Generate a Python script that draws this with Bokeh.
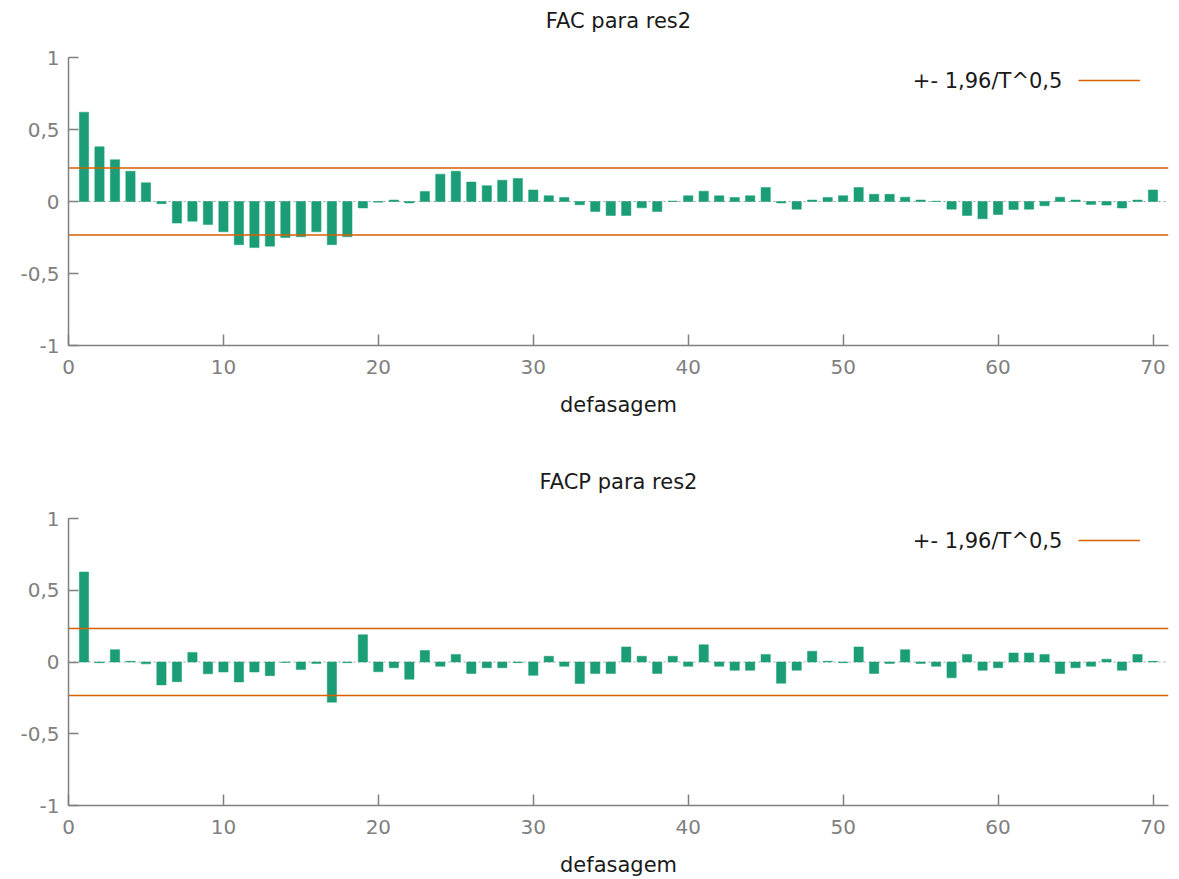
from bokeh.plotting import figure
from bokeh.models import Range1d, FixedTicker, Span, Label, Legend, LegendItem, Title
from bokeh.layouts import column
from bokeh.embed import file_html
from bokeh.resources import INLINE

# ---- data -------------------------------------------------------------
lags = list(range(1, 71))

fac = [0.62, 0.38, 0.29, 0.21, 0.13, -0.015, -0.15, -0.137, -0.16, -0.21,
       -0.30, -0.32, -0.31, -0.25, -0.245, -0.21, -0.30, -0.245, -0.045, -0.005,
       0.01, -0.01, 0.07, 0.19, 0.21, 0.135, 0.11, 0.148, 0.16, 0.08,
       0.04, 0.028, -0.023, -0.07, -0.097, -0.097, -0.044, -0.07, 0.003, 0.04,
       0.072, 0.04, 0.028, 0.04, 0.097, -0.01, -0.053, 0.01, 0.028, 0.04,
       0.097, 0.05, 0.05, 0.03, 0.01, 0.002, -0.053, -0.097, -0.12, -0.09,
       -0.055, -0.053, -0.03, 0.03, 0.01, -0.02, -0.025, -0.045, 0.01, 0.08]

facp = [0.627, -0.005, 0.086, 0.005, -0.013, -0.16, -0.137, 0.067, -0.082, -0.07,
        -0.139, -0.07, -0.095, -0.003, -0.053, -0.01, -0.28, -0.005, 0.19, -0.068,
        -0.04, -0.12, 0.08, -0.03, 0.053, -0.08, -0.04, -0.04, -0.005, -0.093,
        0.04, -0.03, -0.15, -0.08, -0.08, 0.105, 0.04, -0.08, 0.04, -0.03,
        0.12, -0.03, -0.058, -0.058, 0.053, -0.148, -0.058, 0.075, 0.005, -0.005,
        0.105, -0.08, -0.01, 0.086, -0.01, -0.03, -0.11, 0.053, -0.058, -0.04,
        0.063, 0.063, 0.053, -0.08, -0.04, -0.03, 0.02, -0.058, 0.053, 0.005]

band = 0.233
band_label = "+- 1,96/T^0,5"
titles = ["FAC para res2", "FACP para res2"]
x_label = "defasagem"
x_ticks = [0, 10, 20, 30, 40, 50, 60, 70]
y_ticks = [-1, -0.5, 0, 0.5, 1]
y_tick_labels = ["-1", "-0,5", "0", "0,5", "1"]

# ---- style ------------------------------------------------------------
FONT = "DejaVu Sans"
GREEN = "#1b9e77"
ORANGE = "#d95f02"
AXIS = "#808080"
TEXT = "#1a1a1a"
XMIN, XMAX = 0, 71
YMIN, YMAX = -1, 1


def make(title, vals, height, top_border, bottom_border):
    p = figure(width=1171, height=height,
               x_range=Range1d(XMIN, XMAX), y_range=Range1d(YMIN, YMAX),
               output_backend="svg", toolbar_location=None,
               min_border_left=68, min_border_right=3,
               min_border_top=top_border, min_border_bottom=bottom_border)
    # blank spacer panel next to the frame, then the real title above it
    p.add_layout(Title(text=" ", text_font_size="1px", standoff=18), "above")
    p.add_layout(Title(text=title, align="center", vertical_align="top",
                       standoff=4, text_font=FONT, text_font_size="21px",
                       text_font_style="normal", text_color=TEXT), "above")

    p.outline_line_color = None
    p.grid.visible = False
    p.background_fill_color = "white"

    # zero line (dotted)
    p.add_layout(Span(location=0, dimension="width", line_color="#a0a0a0",
                      line_width=1, line_dash="2 3", level="underlay"))

    p.vbar(x=lags, top=vals, bottom=0, width=0.6,
           fill_color=GREEN, line_color=GREEN, line_width=0.5)

    # confidence band lines across the whole x range
    upper = p.line(x=[XMIN, XMAX], y=[band, band], line_color=ORANGE, line_width=1.6)
    p.line(x=[XMIN, XMAX], y=[-band, -band], line_color=ORANGE, line_width=1.6)

    # legend key (line sample; its text is drawn to the left)
    leg = Legend(items=[LegendItem(label=" ", renderers=[upper])],
                 location=(1010, 255), glyph_width=62, glyph_height=20,
                 padding=0, margin=0, spacing=0, label_standoff=0,
                 label_width=1, label_height=20, label_text_font_size="10px",
                 border_line_alpha=0, background_fill_alpha=0)
    p.add_layout(leg)
    p.add_layout(Label(x=64.15, y=0.84, text=band_label, text_align="right",
                       text_baseline="middle", text_font=FONT,
                       text_font_size="21px", text_color=TEXT))

    # axes
    p.xaxis.ticker = FixedTicker(ticks=x_ticks)
    p.yaxis.ticker = FixedTicker(ticks=y_ticks)
    p.yaxis.major_label_overrides = {t: s for t, s in zip(y_ticks, y_tick_labels)}
    for ax in (p.xaxis[0], p.yaxis[0]):
        ax.axis_line_color = AXIS
        ax.axis_line_width = 1.5
        ax.major_tick_line_color = AXIS
        ax.major_tick_line_width = 1.5
        ax.major_tick_out = 0
        ax.minor_tick_line_color = None
        ax.major_label_text_font = FONT
        ax.major_label_text_font_size = "20px"
        ax.major_label_text_color = AXIS
    p.yaxis.major_label_standoff = 9
    p.xaxis.major_label_standoff = 14
    p.yaxis.major_tick_in = 10
    p.xaxis.major_tick_in = 11
    p.xaxis.axis_label = x_label
    p.xaxis.axis_label_text_font = FONT
    p.xaxis.axis_label_text_font_size = "21px"
    p.xaxis.axis_label_text_font_style = "normal"
    p.xaxis.axis_label_text_color = TEXT
    p.xaxis.axis_label_standoff = 16
    return p


p1 = make(titles[0], fac, 461, 57, 116)
p2 = make(titles[1], facp, 418, 57, 73)

layout = column(p1, p2, spacing=0)
open("out.html", "w").write(file_html(layout, INLINE))
